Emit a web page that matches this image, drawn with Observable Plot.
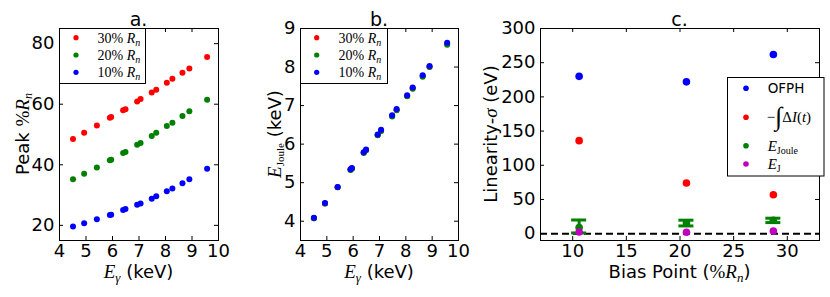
<!DOCTYPE html>
<html><head><meta charset="utf-8">
<script src="https://cdn.jsdelivr.net/npm/d3@7"></script>
<script src="https://cdn.jsdelivr.net/npm/@observablehq/plot@0.6"></script>
<style>
html,body{margin:0;padding:0;background:#fff;}
#wrap{position:relative;width:830px;height:297px;overflow:hidden;background:#fff;}
#wrap svg{position:absolute;top:0;}
</style></head><body><div id="wrap"></div>
<script>
// ---- data ----
const energies = [4.51, 4.93, 5.41, 5.90, 5.95, 6.40, 6.49, 6.93, 7.06, 7.48, 7.65, 8.05, 8.26, 8.64, 8.90, 9.57];
const peak30 = [48.5, 50.6, 53.0, 55.5, 55.8, 58.0, 58.3, 60.9, 61.7, 63.9, 64.8, 67.1, 68.4, 70.4, 71.8, 75.6];
const peak20 = [35.2, 37.0, 39.1, 41.5, 41.7, 43.9, 44.2, 46.6, 47.2, 49.5, 50.6, 52.8, 53.9, 56.1, 57.7, 61.5];
const peak10 = [19.6, 20.7, 22.0, 23.4, 23.5, 25.1, 25.4, 26.8, 27.2, 28.8, 29.6, 31.3, 32.2, 33.9, 35.2, 38.7];
const joule30 = [4.08, 4.46, 4.88, 5.34, 5.37, 5.78, 5.85, 6.24, 6.35, 6.73, 6.89, 7.25, 7.45, 7.77, 8.01, 8.60];
const joule20 = [4.08, 4.46, 4.88, 5.33, 5.36, 5.77, 5.84, 6.23, 6.34, 6.72, 6.88, 7.24, 7.44, 7.75, 8.00, 8.58];
const joule10 = [4.09, 4.47, 4.89, 5.35, 5.38, 5.79, 5.86, 6.25, 6.37, 6.75, 6.91, 7.27, 7.47, 7.79, 8.03, 8.63];
const biasPoints = [10.6, 20.6, 28.7];
const ofph = [230, 222, 262];
const intDI = [136, 74, 57];
const eJoule = [9, 15.5, 19.7];
const eJouleLo = [1, 11.3, 16.2];
const eJouleHi = [20, 19.7, 22.6];
const eJ = [2.5, 2, 4];
const xTicksE = [4, 5, 6, 7, 8, 9, 10];
const yTicksA = [20, 40, 60, 80];
const yTicksB = [4, 5, 6, 7, 8, 9];
const xTicksC = [10, 15, 20, 25, 30];
const yTicksC = [0, 50, 100, 150, 200, 250, 300];

const RED = "#ff0000", GREEN = "#008000", BLUE = "#0000ff", MAG = "#bf00bf";
const SANS = "DejaVu Sans", SERIF = "Liberation Serif";
const wrap = document.getElementById("wrap");

const pts = (xs, ys) => xs.map((x, i) => ({x, y: ys[i]}));

function frameMarks(xt, yt, W, H) {
  return [
    Plot.frame({stroke: "black", strokeWidth: 1}),
    Plot.ruleX(xt, {x: d => d, insetTop: H - 4, stroke: "black"}),
    Plot.ruleX(xt, {x: d => d, insetBottom: H - 4, stroke: "black"}),
    Plot.ruleY(yt, {y: d => d, insetRight: W - 4, stroke: "black"}),
    Plot.ruleY(yt, {y: d => d, insetLeft: W - 4, stroke: "black"}),
    Plot.axisX(xt, {tickSize: 0, tickPadding: 4, label: null, tickFormat: d => String(d), fontSize: 18}),
    Plot.axisY(yt, {tickSize: 0, tickPadding: 5, label: null, tickFormat: d => String(d), fontSize: 18})
  ];
}

function rich(parent, parts, {x, y, anchor = "start", rotate = 0, size = 18}) {
  const t = parent.append("text")
    .attr("text-anchor", anchor)
    .attr("transform", `translate(${x},${y}) rotate(${rotate})`)
    .attr("font-size", size).attr("fill", "black");
  for (const p of parts) {
    const s = t.append("tspan").text(p.t)
      .attr("font-family", p.serif ? SERIF : SANS);
    if (p.it) s.attr("font-style", "italic");
    if (p.size) s.attr("font-size", p.size);
    if (p.dy) s.attr("dy", p.dy);
  }
  return t;
}

function place(svg, left) {
  svg.style.left = left + "px";
  wrap.appendChild(svg);
  return d3.select(svg);
}

const baseStyle = {fontFamily: SANS, fontSize: "18px", background: "transparent", overflow: "visible", color: "black"};

// ---- panel a ----
{
  const width = 265, height = 297, mL = 59, mR = 47, mT = 28, mB = 57;
  const W = width - mL - mR, H = height - mT - mB;
  const svg = Plot.plot({
    width, height, marginLeft: mL, marginRight: mR, marginTop: mT, marginBottom: mB,
    style: baseStyle,
    x: {domain: [4, 10]}, y: {domain: [15, 85]},
    marks: [
      Plot.dot(pts(energies, peak30), {x: "x", y: "y", fill: RED, r: 3}),
      Plot.dot(pts(energies, peak20), {x: "x", y: "y", fill: GREEN, r: 3}),
      Plot.dot(pts(energies, peak10), {x: "x", y: "y", fill: BLUE, r: 3}),
      ...frameMarks(xTicksE, yTicksA, W, H)
    ]
  });
  const s = place(svg, 0);
  s.append("text").attr("x", mL + W / 2).attr("y", 26).attr("text-anchor", "middle")
    .attr("font-family", SANS).attr("font-size", 19).text("a.");
  rich(s, [{t: "E", serif: true, it: true, size: 19}, {t: "γ", serif: true, it: true, size: 13, dy: 4}, {t: " (keV)", dy: -4}],
    {x: mL + W / 2, y: 278, anchor: "middle"});
  rich(s, [{t: "Peak "}, {t: "%", serif: true, size: 19}, {t: "R", serif: true, it: true, size: 19}, {t: "n", serif: true, it: true, size: 12, dy: 3}],
    {x: 29, y: mT + H / 2, anchor: "middle", rotate: -90});
  // legend
  const lg = s.append("g");
  lg.append("rect").attr("x", 59.5).attr("y", 28.5).attr("width", 86).attr("height", 55)
    .attr("fill", "white").attr("stroke", "black");
  [["30", RED, 37.7], ["20", GREEN, 55], ["10", BLUE, 72.3]].forEach(([p, c, yy]) => {
    lg.append("circle").attr("cx", 76).attr("cy", yy).attr("r", 2.6).attr("fill", c);
    rich(lg, [{t: p + "% "}, {t: "R", it: true}, {t: "n", it: true, size: 10, dy: 3}],
      {x: 97.5, y: yy + 5, size: 14}).selectAll("tspan").attr("font-family", SERIF);
  });
}

// ---- panel b ----
{
  const width = 205, height = 297, mL = 35, mR = 12, mT = 28, mB = 57, left = 265;
  const W = width - mL - mR, H = height - mT - mB;
  const svg = Plot.plot({
    width, height, marginLeft: mL, marginRight: mR, marginTop: mT, marginBottom: mB,
    style: baseStyle,
    x: {domain: [4, 10]}, y: {domain: [3.5, 9]},
    marks: [
      Plot.dot(pts(energies, joule30), {x: "x", y: "y", fill: RED, r: 3}),
      Plot.dot(pts(energies, joule20), {x: "x", y: "y", fill: GREEN, r: 3}),
      Plot.dot(pts(energies, joule10), {x: "x", y: "y", fill: BLUE, r: 3}),
      ...frameMarks(xTicksE, yTicksB, W, H)
    ]
  });
  const s = place(svg, left);
  s.append("text").attr("x", mL + W / 2).attr("y", 26).attr("text-anchor", "middle")
    .attr("font-family", SANS).attr("font-size", 19).text("b.");
  rich(s, [{t: "E", serif: true, it: true, size: 19}, {t: "γ", serif: true, it: true, size: 13, dy: 4}, {t: " (keV)", dy: -4}],
    {x: mL + W / 2, y: 278, anchor: "middle"});
  rich(s, [{t: "E", serif: true, it: true, size: 19}, {t: "Joule", serif: true, size: 11, dy: 3}, {t: " (keV)", dy: -3}],
    {x: 281 - left, y: mT + H / 2, anchor: "middle", rotate: -90});
  const lg = s.append("g");
  lg.append("rect").attr("x", 35.5).attr("y", 28.5).attr("width", 87).attr("height", 55)
    .attr("fill", "white").attr("stroke", "black");
  [["30", RED, 37.7], ["20", GREEN, 55], ["10", BLUE, 72.3]].forEach(([p, c, yy]) => {
    lg.append("circle").attr("cx", 51.7).attr("cy", yy).attr("r", 2.6).attr("fill", c);
    rich(lg, [{t: p + "% "}, {t: "R", it: true}, {t: "n", it: true, size: 10, dy: 3}],
      {x: 73.5, y: yy + 5, size: 14}).selectAll("tspan").attr("font-family", SERIF);
  });
}

// ---- panel c ----
{
  const width = 360, height = 297, mL = 70, mR = 11, mT = 28, mB = 57, left = 470;
  const W = width - mL - mR, H = height - mT - mB;
  const err = biasPoints.map((x, i) => ({x, y: eJoule[i], lo: eJouleLo[i], hi: eJouleHi[i]}));
  const svg = Plot.plot({
    width, height, marginLeft: mL, marginRight: mR, marginTop: mT, marginBottom: mB,
    style: baseStyle,
    x: {domain: [7, 33]}, y: {domain: [-10, 300]},
    marks: [
      Plot.ruleY([0], {stroke: "black", strokeWidth: 2, strokeDasharray: "7,4"}),
      Plot.dot(pts(biasPoints, ofph), {x: "x", y: "y", fill: BLUE, r: 3.8}),
      Plot.dot(pts(biasPoints, intDI), {x: "x", y: "y", fill: RED, r: 3.8}),
      Plot.ruleX(err, {x: "x", y1: "lo", y2: "hi", stroke: GREEN, strokeWidth: 3}),
      Plot.ruleY(err, {y: "lo", x1: "x", x2: "x", insetLeft: -7.5, insetRight: -7.5, stroke: GREEN, strokeWidth: 3}),
      Plot.ruleY(err, {y: "hi", x1: "x", x2: "x", insetLeft: -7.5, insetRight: -7.5, stroke: GREEN, strokeWidth: 3}),
      Plot.dot(err, {x: "x", y: "y", fill: GREEN, r: 3.8}),
      Plot.dot(pts(biasPoints, eJ), {x: "x", y: "y", fill: MAG, r: 3.8}),
      ...frameMarks(xTicksC, yTicksC, W, H)
    ]
  });
  const s = place(svg, left);
  s.append("text").attr("x", mL + W / 2).attr("y", 26).attr("text-anchor", "middle")
    .attr("font-family", SANS).attr("font-size", 19).text("c.");
  rich(s, [{t: "Bias Point ("}, {t: "%", serif: true, size: 19}, {t: "R", serif: true, it: true, size: 19}, {t: "n", serif: true, it: true, size: 13, dy: 4}, {t: ")", dy: -4}],
    {x: mL + W / 2, y: 278, anchor: "middle"});
  rich(s, [{t: "Linearity-"}, {t: "σ", serif: true, it: true, size: 19}, {t: " (eV)"}],
    {x: 497 - left, y: mT + H / 2, anchor: "middle", rotate: -90});
  const lg = s.append("g");
  lg.append("rect").attr("x", 257.5).attr("y", 77.5).attr("width", 96.5).attr("height", 98.5)
    .attr("fill", "white").attr("stroke", "black");
  const dx = 276, tx = 297.7;
  lg.append("circle").attr("cx", dx).attr("cy", 88.3).attr("r", 2.8).attr("fill", BLUE);
  rich(lg, [{t: "OFPH"}], {x: tx, y: 93.3, size: 13.5});
  lg.append("circle").attr("cx", dx).attr("cy", 117.3).attr("r", 2.8).attr("fill", RED);
  rich(lg, [{t: "−", serif: true}, {t: "∫", serif: true, it: true, size: 26, dy: 3}, {t: "Δ", serif: true, dy: -3}, {t: "I", serif: true, it: true}, {t: "(", serif: true}, {t: "t", serif: true, it: true}, {t: ")", serif: true}],
    {x: tx - 1, y: 122, size: 15});
  lg.append("circle").attr("cx", dx).attr("cy", 145.7).attr("r", 2.8).attr("fill", GREEN);
  rich(lg, [{t: "E", serif: true, it: true}, {t: "Joule", serif: true, size: 10, dy: 3}],
    {x: tx, y: 150.5, size: 15});
  lg.append("circle").attr("cx", dx).attr("cy", 164).attr("r", 2.8).attr("fill", MAG);
  rich(lg, [{t: "E", serif: true, it: true}, {t: "J", serif: true, size: 10, dy: 3}],
    {x: tx, y: 169, size: 15});
}
</script>
</body></html>
